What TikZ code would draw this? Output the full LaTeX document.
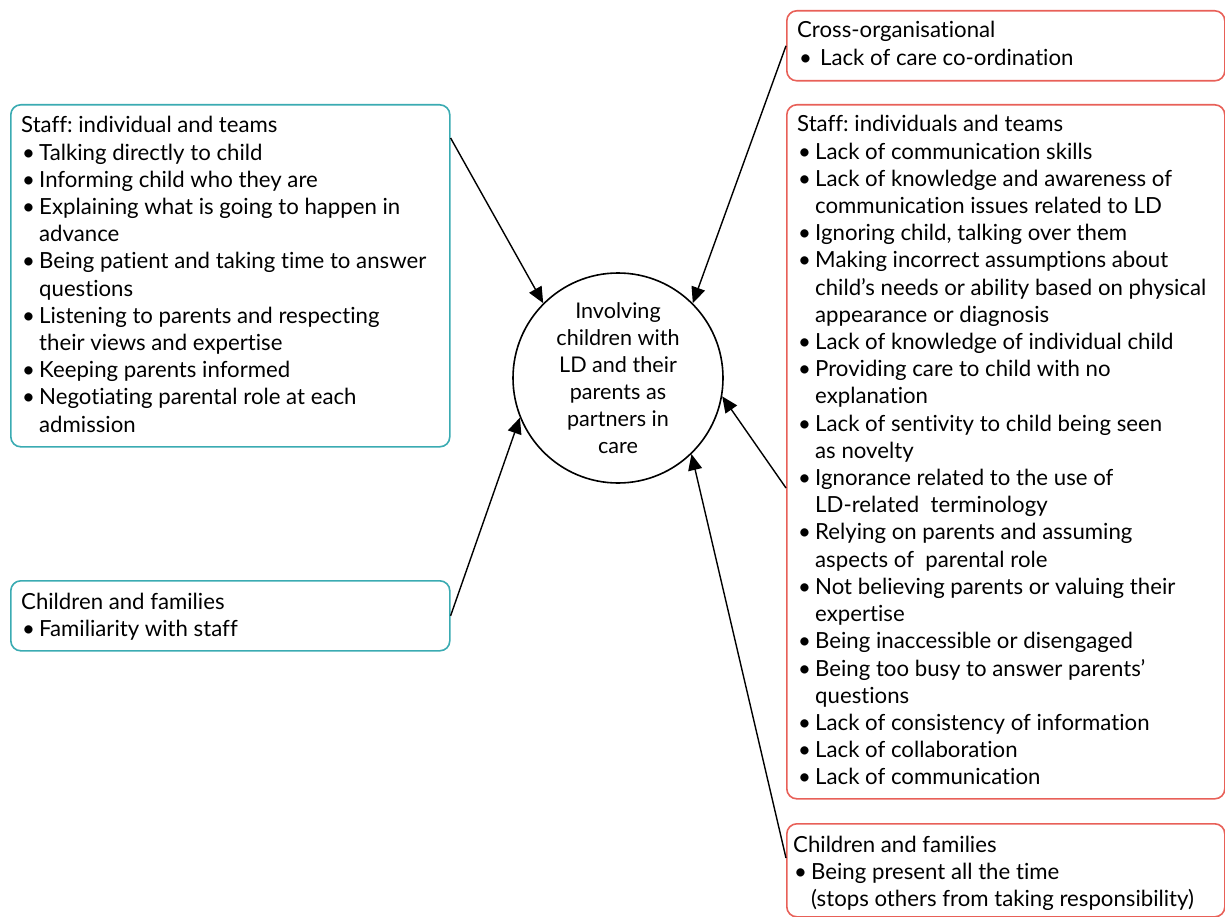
\documentclass[tikz,border=0pt]{standalone}
\usepackage{fontspec}
\setmainfont[Ligatures=NoCommon]{Lato}
\usetikzlibrary{arrows.meta,calc}
\definecolor{tealedge}{RGB}{58,171,178}
\definecolor{rededge}{RGB}{232,96,88}
\frenchspacing
\newcommand\bl[1]{\makebox[18pt][l]{\hspace{1pt}•}#1}
\newcommand\ct[1]{\hspace*{18pt}#1}
\newcommand\boxtext[1]{\parbox[t]{430pt}{\raggedright\fontsize{22.2}{27.2}\selectfont #1}}
\tikzset{
  panel/.style={draw, line width=1.6pt, rounded corners=10pt, inner sep=0pt, anchor=north west},
  goodpanel/.style={panel, tealedge},
  badpanel/.style={panel, rededge},
  label/.style={inner sep=0pt, anchor=base west, align=left},
  link/.style={line width=1.4pt, -{Triangle[length=16pt,width=14pt]}},
}
\begin{document}
\begin{tikzpicture}[x=1pt,y=-1pt]
\useasboundingbox (0,0) rectangle (1225,917);

% central theme
\node[draw, circle, line width=1.6pt, minimum size=210pt, inner sep=0pt,
      align=center, font=\fontsize{21.6}{27}\selectfont] (core) at (618,378)
  {Involving\\children with\\LD and their\\parents as\\partners in\\care};

% facilitators (left)
\node[goodpanel, minimum width=439pt, minimum height=342pt] (fstaff) at (10,104) {};
\node[label] (fstafft) at (21,133) {\boxtext{Staff: individual and teams\\
\bl{Talking directly to child}\\
\bl{Informing child who they are}\\
\bl{Explaining what is going to happen in}\\
\ct{advance}\\
\bl{Being patient and taking time to answer}\\
\ct{questions}\\
\bl{Listening to parents and respecting}\\
\ct{their views and expertise}\\
\bl{Keeping parents informed}\\
\bl{Negotiating parental role at each}\\
\ct{admission}}};

\node[goodpanel, minimum width=439pt, minimum height=70pt] (ffam) at (10,580) {};
\node[label] (ffamt) at (21,609) {\boxtext{Children and families\\
\bl{Familiarity with staff}}};

% barriers (right)
\node[badpanel, minimum width=438pt, minimum height=70pt] (bcross) at (786,10) {};
\node[label] (bcrosst) at (797,38) {\boxtext{Cross-organisational\\
\makebox[23pt][l]{\hspace{2pt}•}Lack of care co-ordination}};

\node[badpanel, minimum width=438pt, minimum height=694pt] (bstaff) at (786,104) {};
\node[label] (bstafft) at (797,132) {\boxtext{Staff: individuals and teams\\
\bl{Lack of communication skills}\\
\bl{Lack of knowledge and awareness of}\\
\ct{communication issues related to LD}\\
\bl{Ignoring child, talking over them}\\
\bl{Making incorrect assumptions about}\\
\ct{child’s needs or ability based on physical}\\
\ct{appearance or diagnosis}\\
\bl{Lack of knowledge of individual child}\\
\bl{Providing care to child with no}\\
\ct{explanation}\\
\bl{Lack of sentivity to child being seen}\\
\ct{as novelty}\\
\bl{Ignorance related to the use of}\\
\ct{LD-related\ \ terminology}\\
\bl{Relying on parents and assuming}\\
\ct{aspects of\ \ parental role}\\
\bl{Not believing parents or valuing their}\\
\ct{expertise}\\
\bl{Being inaccessible or disengaged}\\
\bl{Being too busy to answer parents’}\\
\ct{questions}\\
\bl{Lack of consistency of information}\\
\bl{Lack of collaboration}\\
\bl{Lack of communication}}};

\node[badpanel, minimum width=438pt, minimum height=93pt] (bfam) at (786,823) {};
\node[label] (bfamt) at (793,852) {\boxtext{Children and families\\
\bl{Being present all the time}\\
\ct{(stops others from taking responsibility)}}};

% connectors
\coordinate (s1) at ($(fstaff.north east)+(0,34)$);
\coordinate (s4) at ($(bstaff.north west)+(0,384)$);
\coordinate (s5) at ($(bfam.north west)+(0,35)$);
\draw[link] (s1) -- (core.135);
\draw[link] (bcross.west) -- (core.45);
\draw[link] (ffam.east) -- (core.202);
\draw[link] (s4) -- (core.350);
\draw[link] (s5) -- (core.314);
\end{tikzpicture}
\end{document}
